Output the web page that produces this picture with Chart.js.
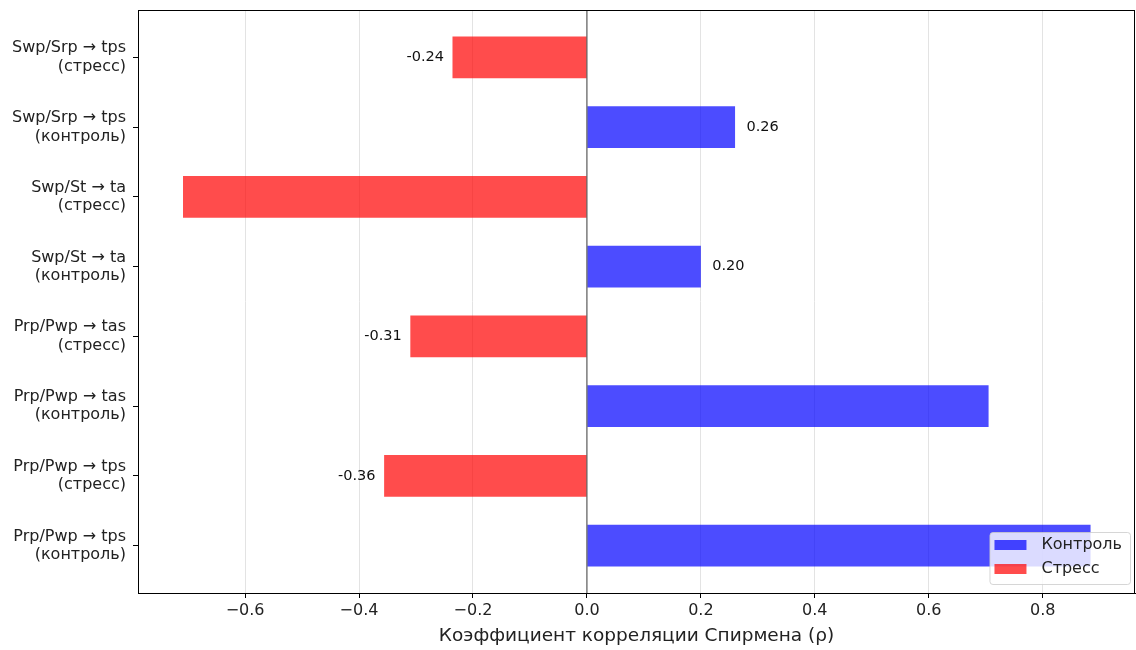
<!DOCTYPE html>
<html>
<head>
<meta charset="utf-8">
<script src="https://cdn.jsdelivr.net/npm/chart.js@4"></script>
<style>
  html, body { margin: 0; padding: 0; background: #fff; }
  #wrap { width: 1136px; height: 650px; }
</style>
</head>
<body>
<div id="wrap"><canvas id="chart" width="1136" height="650"></canvas></div>
<script>
// top to bottom
const pairs = ['Swp/Srp → tps', 'Swp/Srp → tps', 'Swp/St → ta', 'Swp/St → ta',
               'Prp/Pwp → tas', 'Prp/Pwp → tas', 'Prp/Pwp → tps', 'Prp/Pwp → tps'];
const conditions = ['стресс', 'контроль', 'стресс', 'контроль',
                    'стресс', 'контроль', 'стресс', 'контроль'];
const rho = [-0.236, 0.26, -0.709, 0.20, -0.31, 0.705, -0.356, 0.884];
const xTicks = [-0.6, -0.4, -0.2, 0.0, 0.2, 0.4, 0.6, 0.8];

const FONT = "'DejaVu Sans', 'Noto Sans', sans-serif";
const BLUE = 'rgba(0, 0, 255, 0.7)';
const RED = 'rgba(255, 0, 0, 0.7)';

const controlData = [];
const stressData = [];
rho.forEach((v, i) => {
  if (conditions[i] === 'контроль') controlData.push({ x: v, y: i });
  else stressData.push({ x: v, y: i });
});

// value labels, zero line, full frame and legend box
const extras = {
  id: 'extras',
  afterDatasetsDraw(chart) {
    const { ctx, chartArea: a, scales: { x, y } } = chart;
    ctx.save();
    // zero line
    const x0 = x.getPixelForValue(0);
    ctx.strokeStyle = 'rgba(0,0,0,0.45)';
    ctx.lineWidth = 1.6;
    ctx.beginPath();
    ctx.moveTo(x0, a.top);
    ctx.lineTo(x0, a.bottom);
    ctx.stroke();

    // labels for the moderate correlations
    ctx.font = '14.5px ' + FONT;
    ctx.fillStyle = '#111';
    ctx.textBaseline = 'middle';
    rho.forEach((v, i) => {
      if (Math.abs(v) >= 0.5) return;
      const off = v < 0 ? -0.015 : 0.02;
      ctx.textAlign = v < 0 ? 'right' : 'left';
      ctx.fillText(v.toFixed(2), x.getPixelForValue(v + off), y.getPixelForValue(i));
    });

    // frame
    ctx.strokeStyle = '#000';
    ctx.lineWidth = 1;
    ctx.strokeRect(a.left + 0.5, a.top + 0.5, a.right - a.left - 1, a.bottom - a.top);
    ctx.restore();
  },
  afterDraw(chart) {
    const { ctx, chartArea: a } = chart;
    const items = [['Контроль', BLUE], ['Стресс', RED]];
    ctx.save();
    ctx.font = '16px ' + FONT;
    const tw = Math.max(...items.map(it => ctx.measureText(it[0]).width));
    const w = 5 + 32 + 15 + tw + 8;
    const h = 52;
    const bx = a.right - 5 - w;
    const by = a.bottom - 9 - h;
    ctx.fillStyle = 'rgba(255,255,255,0.8)';
    ctx.strokeStyle = 'rgba(204,204,204,0.8)';
    ctx.lineWidth = 1;
    ctx.beginPath();
    ctx.roundRect(bx + 0.5, by + 0.5, w, h, 3);
    ctx.fill();
    ctx.stroke();
    ctx.textBaseline = 'middle';
    ctx.textAlign = 'left';
    items.forEach((it, k) => {
      const cy = by + 13 + k * 24;
      ctx.fillStyle = it[1];
      ctx.fillRect(bx + 5, cy - 5, 32, 10);
      ctx.fillStyle = '#222';
      ctx.fillText(it[0], bx + 52, cy);
    });
    ctx.restore();
  }
};

new Chart(document.getElementById('chart'), {
  type: 'bar',
  data: {
    datasets: [
      { label: 'Контроль', data: controlData, backgroundColor: BLUE, grouped: false },
      { label: 'Стресс', data: stressData, backgroundColor: RED, grouped: false }
    ]
  },
  options: {
    indexAxis: 'y',
    responsive: false,
    animation: false,
    devicePixelRatio: 1,
    barPercentage: 0.6,
    categoryPercentage: 1,
    layout: { padding: { top: 10, right: 1, left: 0, bottom: 0 } },
    plugins: { legend: { display: false }, tooltip: { enabled: false } },
    scales: {
      x: {
        type: 'linear',
        min: -0.788,
        max: 0.962,
        afterBuildTicks: s => { s.ticks = xTicks.map(v => ({ value: v })); },
        afterFit: s => { s.height = 57; s.paddingLeft = 0; s.paddingRight = 0; },
        ticks: {
          padding: 3,
          color: '#222',
          font: { family: FONT, size: 16 },
          callback: v => (v < -1e-9 ? '\u2212' : '') + Math.abs(v).toFixed(1)
        },
        grid: { color: '#e3e3e3', lineWidth: 1, tickLength: 5, tickColor: '#000' },
        border: { display: true, color: '#000', width: 1 },
        title: {
          display: true,
          text: 'Коэффициент корреляции Спирмена (ρ)',
          color: '#222',
          font: { family: FONT, size: 18.5 },
          padding: { top: 4, bottom: 3 }
        }
      },
      y: {
        type: 'linear',
        reverse: true,
        offset: false,
        min: -0.68,
        max: 7.68,
        afterBuildTicks: s => { s.ticks = pairs.map((_, i) => ({ value: i })); },
        afterFit: s => { s.width = 138; s.paddingTop = 0; s.paddingBottom = 0; },
        ticks: {
          padding: 7,
          color: '#222',
          font: { family: FONT, size: 16, lineHeight: 1.15 },
          callback: v => [pairs[v], '(' + conditions[v] + ')']
        },
        grid: { offset: false, drawOnChartArea: false, tickLength: 5, tickColor: '#000' },
        border: { display: true, color: '#000', width: 1 }
      }
    }
  },
  plugins: [extras]
});
</script>
</body>
</html>
